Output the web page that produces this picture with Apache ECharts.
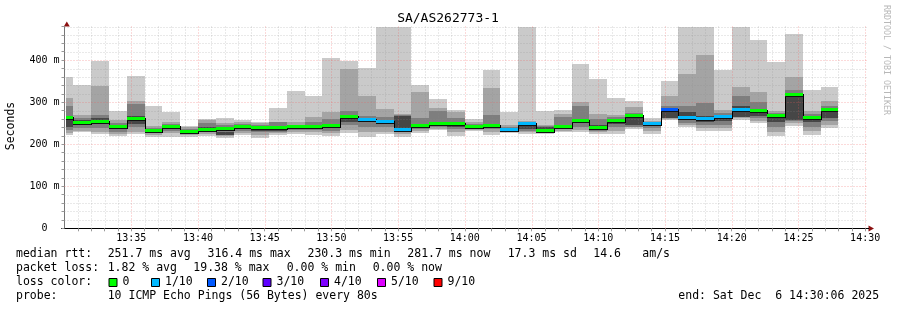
<!DOCTYPE html>
<html><head><meta charset="utf-8">
<script src="https://cdn.jsdelivr.net/npm/echarts@6/dist/echarts.min.js"></script>
<style>html,body{margin:0;padding:0;background:#fff}#c{width:897px;height:310px}</style>
</head><body><div id="c"></div>
<script>
// ---- data (80 s bins, seconds after 13:30:00; rtt in ms) ----
const stepSeconds = 80;
const firstBinEnd = 40;          // 13:30:40
const rttMin  = [221,228,224,220,224,216,216,216,220,214, 221,214,221,225,221,220,227,217,225,216, 227,233,220,231,221,227,224,224,228,229, 224,225,237,225,257,241,231,232,257,251, 220,243,221,239];
const ping2   = [226,232,230,225,230,222,226,222,225,219, 226,222,226,229,229,226,235,230,230,225, 232,237,228,234,228,229,228,228,232,235, 228,232,242,232,260,245,238,238,262,256, 230,250,232,245];
const ping3   = [233,238,238,230,240,228,232,226,229,221, 232,230,230,234,234,232,245,240,240,228, 236,241,236,237,236,231,232,231,236,242, 232,240,242,238,262,250,245,245,265,262, 242,255,242,255];
const ping4   = [240,246,247,236,248,230,236,228,232,222, 236,232,232,237,237,240,254,252,248,233, 240,245,242,238,240,232,236,232,236,250, 236,248,245,244,262,265,252,255,265,268, 252,257,252,262];
const rttMedian = [262,251,253,240,260,232.5,240,230,235,237, 240,239,239,240,240,244.5,264,258,253,235, 243,249,248,240,243,233,248,232,241,256, 239,255,267,248,282,263,260,265,282.5,278.6, 267,317,262,282];
const ping7   = [266,258,263,244,266,234,243,232,240,230, 243,237,237,243,243,248,270,262,258,268, 248,253,253,243,248,236,250,241,241,260, 245,260,264,252,281,277,268,270,290,282, 270,320,265,285];
const ping8   = [290,262,269,250,295,238,248,236,250,245, 248,246,253,246,254,260,279,268,265,270, 262,280,262,248,269,240,252,243,265,290, 260,265,275,253,290,290,297,275,314,300, 275,330,272,290];
const ping9   = [310,269,339,257,302,243,253,240,257,250, 253,250,253,252,265,277,380,314,283,273, 325,286,277,253,333,246,255,245,273,301, 271,269,289,255,314,367,412,281,336,325, 279,360,279,302];
const rttMax  = [360,340,398,279,362,290,277,243,261,262, 257,253,286,326,314,405,398,381,500,500, 340,307,281,260,376,277,500,279,281,390, 354,309,302,263.5,350,500,500,376,500,448, 396,462,329,336];
const lossOf10 = [0,0,0,0,0,0,0,0,0,0, 0,0,0,0,0,0,0,1,1,1, 0,0,0,0,0,1,1,0,0,0, 0,0,0,1,2,1,1,1,1,0, 0,0,0,0];
const lossLabels = ['0','1/10','2/10','3/10','4/10','5/10','9/10'];
const lossColors = {0:'#00ff00',1:'#00b8ff',2:'#0059ff',3:'#5e00ff',4:'#7e00ff',5:'#dd00ff',9:'#ff0000'};
const yTicks = [0,100,200,300,400];
const xStart = 6, xEnd = 3606;   // 13:30:06 .. 14:30:06
const title = 'SA/AS262773-1';

const binEnd = rttMedian.map((_, k) => firstBinEnd + stepSeconds * k);
const binStart = binEnd.map(e => e - stepSeconds);

const MONO = '"DejaVu Sans Mono", monospace';

function clampBox(params, api, k) {
  const cs = params.coordSys;
  let xa = api.coord([binStart[k], 0])[0], xb = api.coord([binEnd[k], 0])[0];
  xa = Math.round(Math.max(xa, cs.x + 1.5)); xb = Math.round(Math.min(xb, cs.x + cs.width));
  const Y = v => Math.round(Math.max(cs.y, Math.min(cs.y + cs.height, api.coord([0, v])[1])));
  return {xa, xb, Y};
}
function smokeItem(params, api) {
  const k = params.dataIndex;
  const {xa, xb, Y} = clampBox(params, api, k);
  const rect = (lo, hi, fill) => ({type:'rect', shape:{x:xa, y:Y(hi), width:xb-xa, height:Y(lo)-Y(hi)}, style:{fill}});
  return {type:'group', children:[
    rect(rttMin[k], rttMax[k], '#cacaca'),
    rect(ping2[k], ping9[k], '#a4a4a4'),
    rect(ping3[k], ping8[k], '#7e7e7e'),
    rect(ping4[k], ping7[k], '#464646')
  ]};
}
function medianItem(params, api) {
  const k = params.dataIndex;
  const {xa, xb, Y} = clampBox(params, api, k);
  const y = Y(rttMedian[k]);
  const ch = [];
  if (k > 0) {
    const yp = Y(rttMedian[k-1]);
    ch.push({type:'line', shape:{x1:xa+0.5, y1:Math.min(y,yp)-1, x2:xa+0.5, y2:Math.max(y,yp)+2}, style:{stroke:'#000', lineWidth:1}});
  }
  ch.push({type:'rect', shape:{x:xa, y:y+1, width:xb-xa, height:1}, style:{fill:'#111'}});
  ch.push({type:'rect', shape:{x:xa, y:y-2, width:xb-xa, height:3}, style:{fill:lossColors[lossOf10[k]]}});
  return {type:'group', children:ch};
}
const minuteMarks = []; for (let s = 60; s <= 3600; s += 60) minuteMarks.push(s);
const msMarks = []; for (let v = 20; v <= 480; v += 20) msMarks.push(v);
const MAJOR = 'rgba(240,90,90,0.45)', MINOR = 'rgba(140,140,140,0.38)';
function vGrid(params, api) {
  const cs = params.coordSys; const v = api.value(0);
  const x = Math.round(api.coord([v, 0])[0]) + 0.5;
  const major = v % 300 === 0;
  return {type:'line', shape:{x1:x, y1:cs.y, x2:x, y2:cs.y+cs.height},
    style:{stroke: major ? MAJOR : MINOR, lineWidth:1, lineDash:[1,2]}};
}
function hGrid(params, api) {
  const cs = params.coordSys; const v = api.value(0);
  const y = Math.round(api.coord([0, v])[1]) + 0.5;
  const major = v % 100 === 0;
  return {type:'line', shape:{x1:cs.x, y1:y, x2:cs.x+cs.width, y2:y},
    style:{stroke: major ? MAJOR : MINOR, lineWidth:1, lineDash:[1,2]}};
}

const binData = rttMedian.map((m, k) => [binStart[k], binEnd[k], rttMin[k], Math.min(rttMax[k], 480)]);

// legend texts
const legendFont = '11.5px ' + MONO;
const T = (text, x, y, extra) => Object.assign({type:'text', x, y, silent:true,
  style:{text, font:legendFont, fill:'#000', verticalAlign:'middle', align:'left'}}, extra || {});
const legend = [
  T('median rtt:', 16, 254), T('251.7 ms avg', 107.7, 254), T('316.4 ms max', 207.6, 254),
  T('230.3 ms min', 307.5, 254), T('281.7 ms now', 407.3, 254), T('17.3 ms sd', 507.7, 254),
  T('14.6', 593.3, 254), T('am/s', 642.3, 254),
  T('packet loss:', 16, 268), T('1.82 % avg', 107.7, 268), T('19.38 % max', 193.3, 268),
  T('0.00 % min', 286.7, 268), T('0.00 % now', 372.7, 268),
  T('loss color:', 16, 282.5),
  T('probe:', 16, 296.5), T('10 ICMP Echo Pings (56 Bytes) every 80s', 107.7, 296.5),
  T('end: Sat Dec  6 14:30:06 2025', 678.3, 296.5)
];
const sqX = [108.5, 151, 207, 262.5, 320, 377, 433.5];
const keys = [0,1,2,3,4,5,9];
keys.forEach((key, i) => {
  legend.push({type:'rect', silent:true, shape:{x:sqX[i]+0.5, y:278.5, width:8, height:8}, style:{fill:lossColors[key], stroke:'#000', lineWidth:1}});
  legend.push(T(lossLabels[i], sqX[i] + 14, 282.5));
});
legend.push({type:'text', x:448, y:19, silent:true, style:{text:title, font:'13px ' + MONO, fill:'#000', align:'center', verticalAlign:'middle'}});
legend.push({type:'text', x:11, y:126, rotation:Math.PI/2, silent:true, style:{text:'Seconds', font:'11.5px ' + MONO, fill:'#000', align:'center', verticalAlign:'middle'}});
legend.push({type:'text', x:886, y:5, rotation:-Math.PI/2, silent:true, style:{text:'RRDTOOL / TOBI OETIKER', font:'8.3px ' + MONO, fill:'#b8b8b8', align:'left', verticalAlign:'middle'}});
legend.push({type:'polygon', silent:true, shape:{points:[[66.8,21.5],[63.8,26.5],[69.8,26.5]]}, style:{fill:'#8b1010'}});
legend.push({type:'polygon', silent:true, shape:{points:[[874,228.5],[868.5,225.5],[868.5,231.5]]}, style:{fill:'#8b1010'}});
legend.push({type:'line', silent:true, shape:{x1:865, y1:228.5, x2:869, y2:228.5}, style:{stroke:'#000', lineWidth:1}});
legend.push({type:'line', silent:true, shape:{x1:61, y1:228.5, x2:65, y2:228.5}, style:{stroke:'#000', lineWidth:1}});

const chart = echarts.init(document.getElementById('c'), null, {renderer:'canvas'});
chart.setOption({
  animation:false,
  backgroundColor:'#ffffff',
  grid:{left:64.5, top:26.5, width:802, height:201.8, outerBoundsMode:'none', containLabel:false},
  xAxis:{type:'value', min:0, max:xEnd, interval:60,
    axisLine:{show:true, lineStyle:{color:'#000', width:1}},
    axisTick:{show:true, length:3, lineStyle:{color:'#999'}},
    splitLine:{show:false},
    axisLabel:{show:true, margin:5, color:'#000', fontFamily:'DejaVu Sans Mono', fontSize:10, showMaxLabel:false, showMinLabel:false,
      formatter: v => { if (v <= 0 || v > 3600 || v % 300 !== 0) return ''; const t = 810 + v/60; return Math.floor(t/60) + ':' + String(t%60).padStart(2,'0'); }}},
  yAxis:{type:'value', min:0, max:480, interval:20,
    axisLine:{show:true, lineStyle:{color:'#777', width:1}},
    axisTick:{show:true, length:3, lineStyle:{color:'#999'}},
    splitLine:{show:false},
    axisLabel:{show:true, margin:5, color:'#000', fontFamily:'DejaVu Sans Mono', fontSize:10,
      formatter: v => yTicks.includes(v) ? (v === 0 ? '0  ' : v + ' m') : ''}},
  series:[
    {type:'custom', name:'smoke', renderItem:smokeItem, data:binData, encode:{x:[0,1], y:[2,3]}, z:2, silent:true},
    {type:'custom', name:'vgrid', renderItem:vGrid, data:minuteMarks.map(v=>[v]), encode:{x:0}, z:3, silent:true},
    {type:'custom', name:'hgrid', renderItem:hGrid, data:msMarks.map(v=>[v]), encode:{y:0}, z:3, silent:true},
    {type:'custom', name:'median', renderItem:medianItem, data:binData, encode:{x:[0,1], y:[2,3]}, z:4, silent:true}
  ],
  graphic:{elements:legend}
});
</script></body></html>
